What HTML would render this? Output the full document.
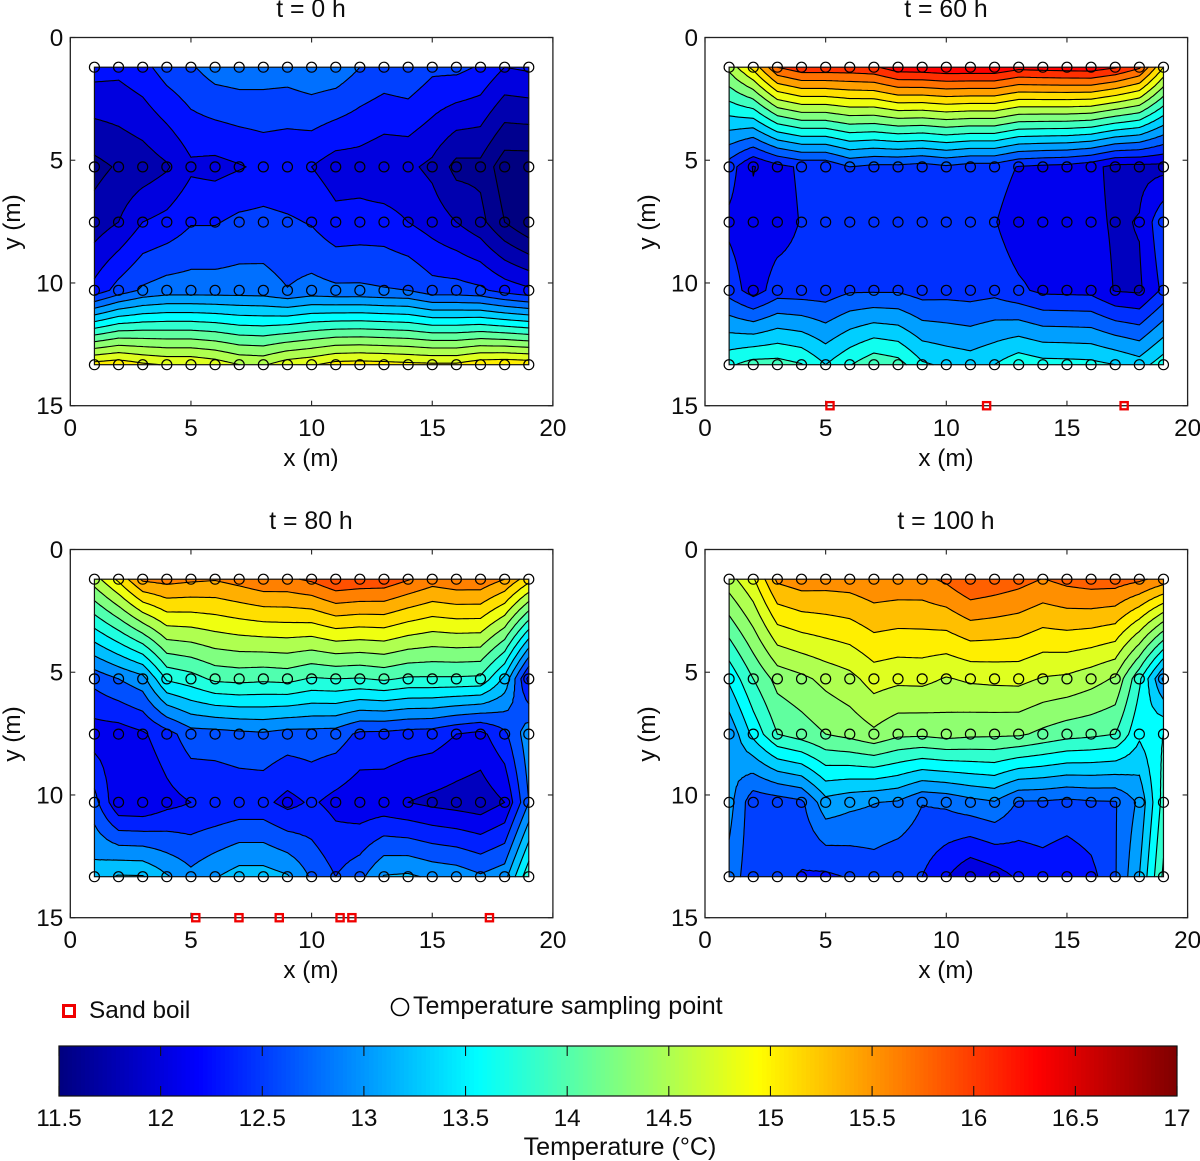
<!DOCTYPE html>
<html lang="en">
<head>
<meta charset="utf-8">
<title>Temperature contours at t = 0, 60, 80 and 100 h</title>
<style>
html,body{margin:0;padding:0;background:#fff}
svg{display:block}
text{font-family:"Liberation Sans",Arial,sans-serif;font-size:24.3px;fill:#0c0c0c}
.wide{font-size:25.1px}
.title{font-size:24.8px}
</style>
</head>
<body>
<svg id="figure" xmlns="http://www.w3.org/2000/svg" width="1200" height="1161" viewBox="0 0 1200 1161">
  <rect x="0" y="0" width="1200" height="1161" fill="#fff"/>

  <g id="panel-t0"></g>
  <g id="panel-t60"></g>
  <g id="panel-t80"></g>
  <g id="panel-t100"></g>

  <text class="title" x="311" y="17" text-anchor="middle">t = 0 h</text>
  <text class="title" x="946" y="17" text-anchor="middle">t = 60 h</text>
  <text class="title" x="311" y="529" text-anchor="middle">t = 80 h</text>
  <text class="title" x="946" y="529" text-anchor="middle">t = 100 h</text>

  <text x="311" y="466" text-anchor="middle">x (m)</text>
  <text x="946" y="466" text-anchor="middle">x (m)</text>
  <text x="311" y="978" text-anchor="middle">x (m)</text>
  <text x="946" y="978" text-anchor="middle">x (m)</text>

  <text text-anchor="middle" transform="translate(20 222) rotate(-90)">y (m)</text>
  <text text-anchor="middle" transform="translate(655 222) rotate(-90)">y (m)</text>
  <text text-anchor="middle" transform="translate(20 734) rotate(-90)">y (m)</text>
  <text text-anchor="middle" transform="translate(655 734) rotate(-90)">y (m)</text>

  <g>
    <rect x="63.5" y="1005.5" width="11" height="11" fill="none" stroke="#f00000" stroke-width="3"/>
    <text x="89" y="1018">Sand boil</text>
    <circle cx="400" cy="1007" r="8.5" fill="none" stroke="#000" stroke-width="1.6"/>
    <text class="wide" x="413" y="1014">Temperature sampling point</text>
  </g>

  <g id="colorbar"></g>
  <text class="wide" x="620" y="1155" text-anchor="middle">Temperature (°C)</text>
</svg>

<script>
// ---------- data ----------
const sensorX = [1,2,3,4,5,6,7,8,9,10,11,12,13,14,15,16,17,18,19];
const sensorY = [1.21,5.27,7.52,10.3,13.33];

const tempsT0 = [
 [12.35,12.32,12.42,12.62,12.72,12.87,12.9,12.88,12.87,12.94,12.92,12.75,12.66,12.71,12.56,12.57,12.47,12.25,12.29],
 [11.67,11.78,11.85,11.97,12.2,12.17,12.23,12.3,12.27,12.25,12.12,12.12,12.05,12.05,11.94,11.67,11.68,11.35,11.35],
 [11.86,12.0,12.25,12.33,12.48,12.48,12.56,12.58,12.54,12.48,12.33,12.35,12.35,12.25,12.14,12.0,11.83,11.5,11.26],
 [12.33,12.6,12.79,12.87,12.87,12.87,12.87,12.86,12.76,12.84,12.8,12.8,12.77,12.75,12.6,12.6,12.55,12.4,12.3],
 [15.11,15.17,15.05,14.98,14.98,14.9,14.75,14.72,14.9,14.97,15.1,15.12,15.1,15.07,15.05,15.05,15.17,15.2,15.17]
];
const tempsT60 = [
 [14.6,15.2,16.0,16.2,16.2,16.2,16.25,16.48,16.5,16.55,16.55,16.55,16.4,16.43,16.45,16.47,16.33,16.05,15.1],
 [12.55,12.08,12.3,12.45,12.45,12.7,12.62,12.62,12.56,12.65,12.56,12.56,12.38,12.33,12.3,12.2,12.0,12.0,12.0],
 [12.33,12.2,12.25,12.42,12.5,12.5,12.5,12.5,12.5,12.5,12.5,12.42,12.2,12.2,12.2,12.2,12.05,12.12,12.65],
 [12.57,12.25,12.54,12.53,12.53,12.66,12.66,12.66,12.56,12.58,12.56,12.6,12.46,12.33,12.32,12.31,12.08,12.05,12.47],
 [13.85,14.03,14.03,13.92,13.6,13.88,14.13,14.03,13.65,13.54,13.47,13.6,13.82,13.72,13.71,13.69,13.6,13.45,13.79]
];
const tempsT80 = [
 [14.6,15.05,15.58,15.63,15.58,15.55,15.64,15.75,15.75,15.85,16.05,16.0,15.98,15.82,15.66,15.73,15.73,15.53,15.1],
 [12.65,12.83,13.0,13.68,13.79,13.97,14.0,13.97,14.0,13.88,13.91,13.89,13.95,13.87,13.87,13.87,13.85,13.3,12.2],
 [12.15,12.15,12.25,12.45,12.71,12.72,12.76,12.79,12.72,12.72,12.7,12.5,12.49,12.44,12.42,12.29,12.21,12.5,13.0],
 [12.66,12.05,12.03,12.2,12.29,12.31,12.36,12.36,12.2,12.33,12.2,12.1,12.1,12.02,11.95,11.9,11.85,12.02,12.83],
 [13.23,13.4,13.39,13.13,12.91,13.08,13.23,13.23,13.13,12.79,12.56,12.75,13.12,13.15,13.05,13.0,12.87,13.0,13.85]
];
const tempsT100 = [
 [14.65,14.97,15.55,15.64,15.62,15.63,15.7,15.68,15.68,15.8,16.0,15.93,15.85,15.74,15.83,15.88,15.88,15.8,15.65],
 [13.55,14.0,14.34,14.44,14.57,14.67,14.86,14.81,14.82,14.73,14.79,14.81,14.82,14.73,14.7,14.6,14.47,13.8,12.95],
 [13.05,13.57,14.0,14.12,14.25,14.33,14.45,14.31,14.3,14.35,14.31,14.3,14.29,14.19,14.1,14.06,14.0,13.55,13.75],
 [13.1,12.58,12.62,12.7,13.16,13.07,13.01,12.97,12.76,12.8,12.91,12.98,12.72,12.72,12.68,12.72,12.73,13.05,13.85],
 [12.9,12.58,12.58,12.48,12.45,12.52,12.6,12.52,12.5,12.27,12.02,12.13,12.29,12.36,12.28,12.41,12.73,13.25,14.05]
];

const levelsT0 = [11.5,11.75,12,12.25,12.5,12.75,13,13.25,13.5,13.75,14,14.25,14.5,14.75,15];
const levelsT60 = [11.8,12.1,12.4,12.7,13,13.3,13.6,13.9,14.2,14.5,14.8,15.1,15.4,15.7,16,16.3];
const levelsT80 = [11.75,12.02,12.29,12.56,12.83,13.1,13.37,13.64,13.91,14.18,14.45,14.72,14.99,15.26,15.53,15.8];
const levelsT100 = [12,12.25,12.5,12.75,13,13.25,13.5,13.75,14,14.25,14.5,14.75,15,15.25,15.5,15.75];

const sandBoilsT60 = [5.18,11.67,17.37];
const sandBoilsT80 = [5.2,6.99,8.66,11.18,11.67,17.37];

const xTickLabels = [0,5,10,15,20];
const yTickLabels = [0,5,10,15];
const colorbarTickLabels = [11.5,12,12.5,13,13.5,14,14.5,15,15.5,16,16.5,17];
const colorMin = 11.5;
const colorMax = 17;
const colorCount = 64;

// ---------- layout ----------
const SVGNS = 'http://www.w3.org/2000/svg';
const PW = 482.6, PH = 368.2;
function mk(tag, attrs, parent){
  const el = document.createElementNS(SVGNS, tag);
  for (const k in attrs) el.setAttribute(k, attrs[k]);
  if (parent) parent.appendChild(el);
  return el;
}
function jetAt(q){
  const c = v => Math.round(255 * Math.max(0, Math.min(1, v)));
  return 'rgb(' + c(1.5 - Math.abs(4*q - 3)) + ',' + c(1.5 - Math.abs(4*q - 2)) + ',' + c(1.5 - Math.abs(4*q - 1)) + ')';
}
function levelColor(L){
  let n = Math.floor(colorCount * (L - colorMin) / (colorMax - colorMin) + 1e-9) + 1;
  n = Math.max(0, Math.min(colorCount, n));
  return jetAt(n / colorCount);
}
function clipPoly(poly, level, keepAbove){
  const out = [];
  for (let i = 0; i < poly.length; i++){
    const a = poly[i], b = poly[(i + 1) % poly.length];
    const ina = keepAbove ? a[2] >= level : a[2] < level;
    const inb = keepAbove ? b[2] >= level : b[2] < level;
    if (ina) out.push(a);
    if (ina !== inb){
      const t = (level - a[2]) / (b[2] - a[2]);
      out.push([a[0] + t*(b[0]-a[0]), a[1] + t*(b[1]-a[1]), level]);
    }
  }
  return out;
}
function buildMesh(temps){
  const tris = [];
  const NX = 4, NY = 8;
  for (let r = 0; r < sensorY.length - 1; r++){
    for (let c = 0; c < sensorX.length - 1; c++){
      const v = (u, w) => {
        const x = sensorX[c] + u * (sensorX[c+1] - sensorX[c]);
        const y = sensorY[r] + w * (sensorY[r+1] - sensorY[r]);
        const t = (1-u)*(1-w)*temps[r][c] + u*(1-w)*temps[r][c+1] + (1-u)*w*temps[r+1][c] + u*w*temps[r+1][c+1];
        return [x, y, t];
      };
      for (let i = 0; i < NX; i++){
        for (let j = 0; j < NY; j++){
          const p00 = v(i/NX, j/NY), p10 = v((i+1)/NX, j/NY), p01 = v(i/NX, (j+1)/NY), p11 = v((i+1)/NX, (j+1)/NY);
          tris.push([p00, p10, p11]);
          tris.push([p00, p11, p01]);
        }
      }
    }
  }
  return tris;
}
function drawPanel(group, left, top, temps, levels, boils, colorShift){
  const sx = x => left + x * PW / 20;
  const sy = y => top + y * PH / 15;
  const f = n => n.toFixed(2);
  const tris = buildMesh(temps);
  const step = levels[1] - levels[0];

  // filled bands, lowest level first
  const bounds = [levels[0] - step * 4].concat(levels).concat([99]);
  for (let k = 0; k < bounds.length - 1; k++){
    const lo = bounds[k], hi = bounds[k+1];
    let d = '';
    for (const tri of tris){
      const mn = Math.min(tri[0][2], tri[1][2], tri[2][2]);
      const mx = Math.max(tri[0][2], tri[1][2], tri[2][2]);
      if (mx < lo || mn >= hi) continue;
      let poly = clipPoly(tri, lo, true);
      if (poly.length) poly = clipPoly(poly, hi, false);
      if (poly.length < 3) continue;
      d += 'M' + poly.map(p => f(sx(p[0])) + ' ' + f(sy(p[1]))).join('L') + 'Z';
    }
    if (!d) continue;
    const colorLevel = (k === 0 ? levels[0] - step : lo) + colorShift;
    const band = mk('path', {d: d, fill: levelColor(colorLevel), 'shape-rendering': 'crispEdges'}, group);
    
    
  }

  // contour lines
  for (const L of levels){
    let d = '';
    for (const tri of tris){
      const pts = [];
      for (let i = 0; i < 3; i++){
        const a = tri[i], b = tri[(i+1)%3];
        if ((a[2] >= L) !== (b[2] >= L)){
          const t = (L - a[2]) / (b[2] - a[2]);
          pts.push([a[0] + t*(b[0]-a[0]), a[1] + t*(b[1]-a[1])]);
        }
      }
      if (pts.length === 2) d += 'M' + f(sx(pts[0][0])) + ' ' + f(sy(pts[0][1])) + 'L' + f(sx(pts[1][0])) + ' ' + f(sy(pts[1][1]));
    }
    if (!d) continue;
    const line = mk('path', {d: d, fill: 'none', stroke: '#000', 'stroke-width': 1.1, 'stroke-linecap': 'round'}, group);
    
    
  }

  // domain outline
  const dom = mk('rect', {x: sx(sensorX[0]), y: sy(sensorY[0]), width: sx(sensorX[18]) - sx(sensorX[0]), height: sy(sensorY[4]) - sy(sensorY[0]), fill: 'none', stroke: '#111', 'stroke-width': 1.2}, group);
  
  

  // axes box
  const box = mk('rect', {x: left, y: top, width: PW, height: PH, fill: 'none', stroke: '#222', 'stroke-width': 1.3}, group);
  
  

  // ticks and tick labels
  for (const v of xTickLabels){
    const px = sx(v);
    const tb = mk('line', {x1: px, x2: px, y1: top + PH, y2: top + PH - 5, stroke: '#222', 'stroke-width': 1.1}, group);
    
    
    const tt = mk('line', {x1: px, x2: px, y1: top, y2: top + 5, stroke: '#222', 'stroke-width': 1.1}, group);
    
    
    const lb = mk('text', {x: px, y: top + PH + 30.5, 'text-anchor': 'middle'}, group);
    lb.textContent = String(v);
    
    
  }
  for (const v of yTickLabels){
    const py = sy(v);
    const tl = mk('line', {x1: left, x2: left + 5, y1: py, y2: py, stroke: '#222', 'stroke-width': 1.1}, group);
    
    
    const tr = mk('line', {x1: left + PW, x2: left + PW - 5, y1: py, y2: py, stroke: '#222', 'stroke-width': 1.1}, group);
    
    
    const lb = mk('text', {x: left - 7, y: py + 8.5, 'text-anchor': 'end'}, group);
    lb.textContent = String(v);
    
    
  }

  // sampling points
  for (const yv of sensorY){
    for (const xv of sensorX){
      const pt = mk('circle', {cx: sx(xv), cy: sy(yv), r: 5, fill: 'none', stroke: '#000', 'stroke-width': 1.2}, group);
      
      
    }
  }

  // sand boils
  for (const b of boils){
    const sq = mk('rect', {x: sx(b) - 3.6, y: sy(15) - 3.6, width: 7.2, height: 7.2, fill: 'none', stroke: '#f00000', 'stroke-width': 2.3}, group);
    
    
  }
}

drawPanel(document.getElementById('panel-t0'), 70.3, 37.5, tempsT0, levelsT0, [], 0);
drawPanel(document.getElementById('panel-t60'), 705, 37.5, tempsT60, levelsT60, sandBoilsT60, 0);
drawPanel(document.getElementById('panel-t80'), 70.3, 549.5, tempsT80, levelsT80, sandBoilsT80, 0.05);
drawPanel(document.getElementById('panel-t100'), 705, 549.5, tempsT100, levelsT100, [], 0);

// ---------- colorbar ----------
(function(){
  const g = document.getElementById('colorbar');
  const L = 59, R = 1177, T = 1046, B = 1096;
  const W = R - L;
  const barCells = 256;
  for (let n = 0; n < barCells; n++){
    const cell = mk('rect', {x: L + n*W/barCells, y: T, width: W/barCells + 0.6, height: B - T, fill: jetAt((n + 0.5) / barCells), 'shape-rendering': 'crispEdges'}, g);
    
    
  }
  const frame = mk('rect', {x: L, y: T, width: W, height: B - T, fill: 'none', stroke: '#111', 'stroke-width': 1.2}, g);
  
  
  for (const v of colorbarTickLabels){
    const px = L + (v - colorMin) / (colorMax - colorMin) * W;
    const t1 = mk('line', {x1: px, x2: px, y1: T, y2: T + 10, stroke: '#111', 'stroke-width': 1.1}, g);
    
    
    const t2 = mk('line', {x1: px, x2: px, y1: B, y2: B - 10, stroke: '#111', 'stroke-width': 1.1}, g);
    
    
    const lb = mk('text', {x: px, y: 1126, 'text-anchor': 'middle'}, g);
    lb.textContent = String(v);
    
    
  }
})();
</script>
</body>
</html>
